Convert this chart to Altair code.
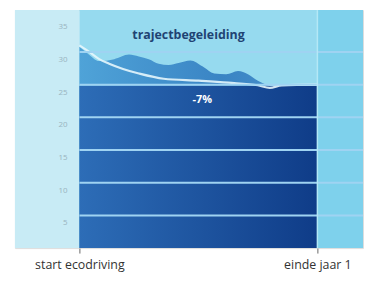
import altair as alt
import pandas as pd

# months from start of ecodriving (0) to end of year 1 (12)
jag_x = [0, 0.4, 1.0, 1.75, 2.5, 3.0, 3.5, 4.0, 4.5, 5.0, 5.6, 6.2, 6.8, 7.4, 8.0, 8.5, 9.0, 9.5, 10.0, 11.0, 12.0]
jag_y = [30.8, 29.8, 28.6, 28.9, 29.6, 29.3, 28.9, 28.2, 28.0, 28.3, 28.7, 27.8, 26.7, 26.6, 27.1, 26.6, 25.6, 24.9, 24.6, 24.8, 24.8]

line_x = [0, 0.5, 1.0, 1.5, 2.2, 3.0, 4.25, 6.0, 7.5, 9.0, 9.6, 10.2, 12.0]
line_y = [31.0, 30.0, 28.9, 28.2, 27.4, 26.7, 25.9, 25.6, 25.3, 24.9, 24.5, 24.9, 25.0]

dark_x = [0, 12]
dark_y = [24.8, 24.8]

grid_vals = [5, 10, 15, 20, 25, 30]
tick_vals = [5, 10, 15, 20, 25, 30, 35]
x_ticks = [0, 12]
x_labels = ["start ecodriving", "einde jaar 1"]

XMIN, XMAX = -3.25, 14.3
YMAX = 36.4

xs = alt.Scale(domain=[XMIN, XMAX], nice=False, zero=False)
ys = alt.Scale(domain=[0, YMAX], nice=False)

x_axis = alt.Axis(values=x_ticks,
                  labelExpr="datum.value == 0 ? 'start ecodriving' : 'einde jaar 1'",
                  grid=False, domain=False, tickSize=5, tickColor="#666", tickWidth=1,
                  labelFontSize=12.5, labelColor="#333", labelFont="Open Sans",
                  labelPadding=6, title=None, labelFlush=False)

cols = pd.DataFrame({"x0": [XMIN, 0, 12], "x1": [0, 12, XMAX], "c": ["left", "mid", "right"]})
bg = alt.Chart(cols).mark_rect().encode(
    x=alt.X("x0:Q", scale=xs, axis=x_axis), x2="x1",
    y=alt.value(0), y2=alt.value(240),
    color=alt.Color("c:N", scale=alt.Scale(domain=["left", "mid", "right"],
                                           range=["#c8ebf5", "#96daef", "#7ed1ec"]), legend=None),
)

jag = alt.Chart(pd.DataFrame({"x": jag_x, "y": jag_y})).mark_area(
    interpolate="monotone",
    color=alt.Gradient(gradient="linear", x1=0, x2=1, y1=0, y2=0,
                       stops=[alt.GradientStop(color="#4fa3d8", offset=0),
                              alt.GradientStop(color="#3a84c4", offset=0.6),
                              alt.GradientStop(color="#4a92cc", offset=1)]),
).encode(x=alt.X("x:Q", scale=xs), y=alt.Y("y:Q", scale=ys, axis=None))

dark = alt.Chart(pd.DataFrame({"x": dark_x, "y": dark_y})).mark_area(
    color=alt.Gradient(gradient="linear", x1=0, x2=1, y1=0, y2=0,
                       stops=[alt.GradientStop(color="#2d6db7", offset=0),
                              alt.GradientStop(color="#0f3c88", offset=1)]),
).encode(x=alt.X("x:Q", scale=xs), y=alt.Y("y:Q", scale=ys))

wline = alt.Chart(pd.DataFrame({"x": line_x, "y": line_y})).mark_line(
    color="#e6f6fc", strokeWidth=2.2, interpolate="monotone", opacity=0.9
).encode(x=alt.X("x:Q", scale=xs), y=alt.Y("y:Q", scale=ys))

grid = alt.Chart(pd.DataFrame({"y": grid_vals})).mark_rule(color="#9fd3f2", strokeWidth=2).encode(
    x=alt.X(datum=0, scale=xs), x2=alt.X2(datum=XMAX), y=alt.Y("y:Q", scale=ys)
)

vrule = alt.Chart(pd.DataFrame({"x": [12]})).mark_rule(color="#b4e8f6", strokeWidth=1.5).encode(
    x=alt.X("x:Q", scale=xs), y=alt.value(0), y2=alt.value(240)
)

ylab = alt.Chart(pd.DataFrame({"v": tick_vals})).mark_text(
    align="right", baseline="middle", dy=8, fontSize=8, color="#9bb6c2", font="Noto Sans"
).encode(x=alt.X(datum=-0.6, scale=xs), y=alt.Y("v:Q", scale=ys), text="v:Q")

title = alt.Chart(pd.DataFrame({"x": [5.5], "y": [32.6], "t": ["trajectbegeleiding"]})).mark_text(
    fontSize=12.5, fontWeight="bold", color="#1f4373", font="Open Sans"
).encode(x=alt.X("x:Q", scale=xs), y=alt.Y("y:Q", scale=ys), text="t:N")

pct = alt.Chart(pd.DataFrame({"x": [6.2], "y": [22.6], "t": ["-7%"]})).mark_text(
    fontSize=11, fontWeight="bold", color="#ffffff", font="Open Sans"
).encode(x=alt.X("x:Q", scale=xs), y=alt.Y("y:Q", scale=ys), text="t:N")

chart = alt.layer(bg, jag, dark, wline, grid, vrule, ylab, title, pct).properties(
    width=351, height=240, padding={"left": 7, "top": 0, "right": 0, "bottom": 0}
).configure_view(stroke=None).configure(background="#ffffff")

chart.save("out.html", embed_options={"renderer": "svg", "actions": False})
